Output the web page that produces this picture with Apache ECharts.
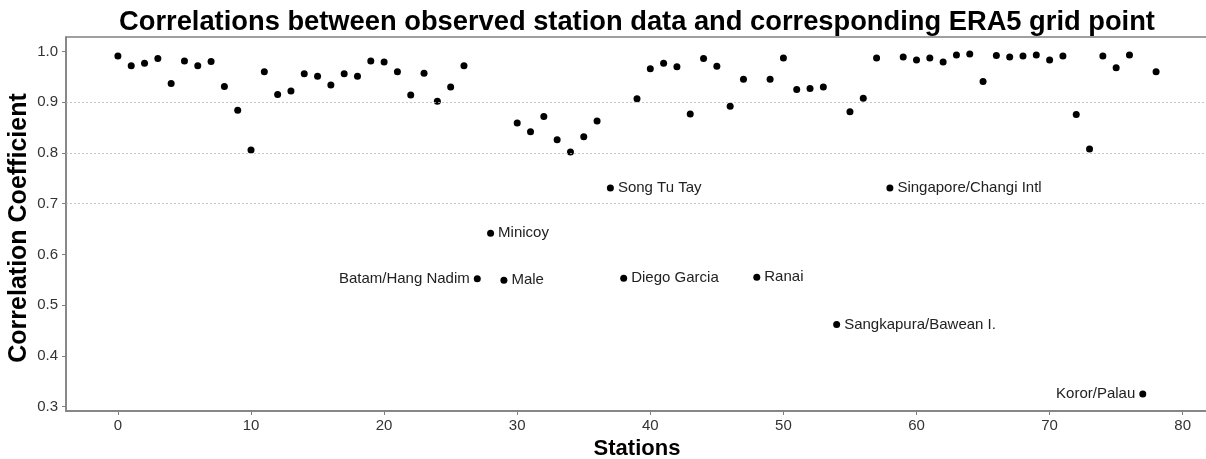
<!DOCTYPE html>
<html>
<head>
<meta charset="utf-8">
<script src="https://cdn.jsdelivr.net/npm/echarts@6/dist/echarts.min.js"></script>
<style>
html,body{margin:0;padding:0;background:#fff;}
#chart{width:1206px;height:459px;}
</style>
</head>
<body>
<div id="chart"></div>
<script>
// Station correlation coefficients, station index 0..78
const correlations = [
  0.991, 0.972, 0.977, 0.986, 0.937, 0.981, 0.972, 0.980, 0.931, 0.884,
  0.806, 0.960, 0.915, 0.922, 0.956, 0.951, 0.934, 0.956, 0.951, 0.981,
  0.979, 0.960, 0.914, 0.957, 0.902, 0.930, 0.972, 0.552, 0.642, 0.549,
  0.859, 0.842, 0.872, 0.826, 0.802, 0.832, 0.863, 0.731, 0.553, 0.907,
  0.966, 0.977, 0.970, 0.877, 0.986, 0.971, 0.892, 0.945, 0.555, 0.945,
  0.987, 0.925, 0.927, 0.930, 0.462, 0.881, 0.908, 0.987, 0.731, 0.989,
  0.983, 0.987, 0.979, 0.993, 0.995, 0.941, 0.992, 0.989, 0.991, 0.993,
  0.983, 0.991, 0.876, 0.808, 0.991, 0.968, 0.993, 0.325, 0.960
];
// Annotated stations
const labelIndices = [27, 28, 29, 37, 38, 48, 54, 58, 77];
const labelNames = ['Batam/Hang Nadim', 'Minicoy', 'Male', 'Song Tu Tay', 'Diego Garcia',
                    'Ranai', 'Sangkapura/Bawean I.', 'Singapore/Changi Intl', 'Koror/Palau'];
const leftLabelled = ['Batam/Hang Nadim', 'Koror/Palau'];
// Tick labels
const xTicks = [0, 10, 20, 30, 40, 50, 60, 70, 80];
const yTicks = [0.3, 0.4, 0.5, 0.6, 0.7, 0.8, 0.9, 1.0];
const gridLevels = [0.7, 0.8, 0.9];

const FONT = '"Liberation Sans", Arial, Helvetica, sans-serif';

const points = correlations.map((v, i) => {
  const k = labelIndices.indexOf(i);
  const item = { value: [i, v] };
  if (k >= 0) {
    const name = labelNames[k];
    item.label = {
      show: true,
      formatter: name,
      position: leftLabelled.includes(name) ? 'left' : 'right'
    };
  }
  return item;
});

const chart = echarts.init(document.getElementById('chart'), null, { renderer: 'canvas' });
chart.setOption({
  animation: false,
  backgroundColor: '#fff',
  title: {
    text: 'Correlations between observed station data and corresponding ERA5 grid point',
    left: 632, top: 4, textAlign: 'center',
    textStyle: { fontFamily: FONT, fontSize: 27.3, fontWeight: 'bold', color: '#000' }
  },
  grid: {
    left: 66, top: 37, width: 1142, height: 374,
    outerBoundsMode: 'none', containLabel: false,
    show: true, borderColor: '#808080', borderWidth: 1.5, backgroundColor: 'transparent'
  },
  xAxis: {
    type: 'value', min: -3.9, max: 81.9,
    name: 'Stations', nameLocation: 'middle', nameGap: 27, nameMoveOverlap: false,
    nameTextStyle: { fontFamily: FONT, fontSize: 22, fontWeight: 'bold', color: '#000' },
    axisLine: { show: true, onZero: false, lineStyle: { color: '#808080', width: 1.5 } },
    axisTick: { show: true, length: 4, customValues: xTicks, lineStyle: { color: '#808080' } },
    axisLabel: { customValues: xTicks, margin: 7, fontFamily: FONT, fontSize: 15, color: '#333' },
    splitLine: { show: false }
  },
  yAxis: {
    type: 'value', min: 0.2915, max: 1.0285,
    name: 'Correlation Coefficient', nameLocation: 'middle', nameGap: 34, nameMoveOverlap: false,
    nameTextStyle: { fontFamily: FONT, fontSize: 25, fontWeight: 'bold', color: '#000', padding: [0, 8, 0, 0] },
    axisLine: { show: true, onZero: false, lineStyle: { color: '#808080', width: 1.5 } },
    axisTick: { show: true, length: 4, customValues: yTicks, lineStyle: { color: '#808080' } },
    axisLabel: {
      customValues: yTicks, margin: 8, fontFamily: FONT, fontSize: 15, color: '#333',
      formatter: v => v.toFixed(1)
    },
    splitLine: { show: false }
  },
  series: [{
    type: 'scatter',
    symbol: 'circle',
    symbolSize: 7,
    itemStyle: { color: '#000', opacity: 1 },
    label: { show: false, distance: 4, fontFamily: FONT, fontSize: 15, color: '#222' },
    data: points,
    markLine: {
      silent: true, symbol: 'none', label: { show: false },
      lineStyle: { color: '#b8b8b8', type: [2, 2], width: 0.8 },
      data: gridLevels.map(y => ({ yAxis: y }))
    },
    z: 3
  }]
});
</script>
</body>
</html>
